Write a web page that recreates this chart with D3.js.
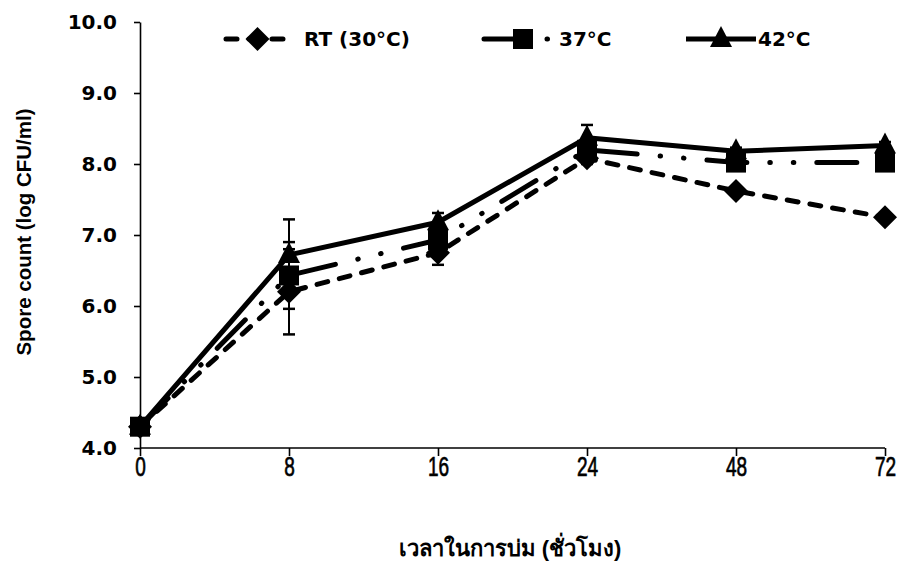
<!DOCTYPE html>
<html lang="en">
<head>
<meta charset="UTF-8">
<title>Spore count vs incubation time</title>
<script src="https://cdnjs.cloudflare.com/ajax/libs/d3/7.8.5/d3.min.js"></script>
<style>
  body { margin: 0; background: #fff; }
  svg { display: block; }
  .axis path, .axis line { stroke: #000; stroke-width: 1.6px; }
  .y-axis text { font-family: "DejaVu Sans", sans-serif; font-size: 20px; font-weight: bold; fill: #000; }
  .x-axis text { font-family: "Liberation Sans", Arial, sans-serif; font-size: 28px; fill: #000; stroke: #000; stroke-width: 0.7px; }
  .legend text { font-family: "DejaVu Sans", sans-serif; font-size: 20px; font-weight: bold; fill: #000; }
  .title { font-family: "Liberation Sans", Arial, sans-serif; font-weight: bold; fill: #000; }
</style>
</head>
<body>
<svg width="902" height="564"></svg>
<script>
// incubation time (hours), shown as evenly spaced categories
const hours = ["0", "8", "16", "24", "48", "72"];
const yTicks = [4, 5, 6, 7, 8, 9, 10];

// spore counts, log CFU/ml
const rtMean  = [4.3, 6.2, 6.75, 8.08, 7.62, 7.25];
const c37Mean = [4.3, 6.43, 6.93, 8.2, 8.02, 8.02];
const c42Mean = [4.3, 6.72, 7.18, 8.37, 8.18, 8.26];

// standard deviations
const rtErr  = [0, 0.6, 0.17, 0.08, 0.05, 0.05];
const c37Err = [0, 0.47, 0.1, 0.08, 0.05, 0.05];
const c42Err = [0, 0.5, 0.13, 0.18, 0.05, 0.05];

const seriesNames = ["RT (30°C)", "37°C", "42°C"];

const svg = d3.select("svg");
const x = d3.scalePoint().domain(hours).range([140, 885]);
const y = d3.scaleLinear().domain([4, 10]).range([448, 22]);

// marker shapes
function marker(kind, cx, cy) {
  if (kind === "diamond") {
    const r = 12;
    return `M${cx},${cy - r}L${cx + r},${cy}L${cx},${cy + r}L${cx - r},${cy}Z`;
  }
  if (kind === "square") {
    const h = 10;
    return `M${cx - h},${cy - h}h${2 * h}v${2 * h}h${-2 * h}Z`;
  }
  // triangle
  return `M${cx},${cy - 13}L${cx + 11},${cy + 8}L${cx - 11},${cy + 8}Z`;
}

const series = [
  { name: seriesNames[2], vals: c42Mean, err: c42Err, dash: null, shape: "triangle", lw: 5 },
  { name: seriesNames[0], vals: rtMean, err: rtErr, dash: "11,12", shape: "diamond", lw: 5 },
  { name: seriesNames[1], vals: c37Mean, err: c37Err, dash: "40,23,0.5,23,0.5,23", shape: "square", lw: 5 }
];

// axes
const yAxis = svg.append("g").attr("class", "axis y-axis")
  .attr("transform", "translate(140,0)")
  .call(d3.axisLeft(y).tickValues(yTicks).tickFormat(d3.format(".1f")).tickSize(6).tickSizeOuter(0));
yAxis.selectAll("text").attr("x", -23);

const xAxis = svg.append("g").attr("class", "axis x-axis")
  .attr("transform", "translate(0,448)")
  .call(d3.axisBottom(x).tickSize(8).tickSizeOuter(0));
xAxis.select(".domain").attr("d", "M140,0H885");
xAxis.selectAll("text").attr("y", 8).attr("transform", "scale(0.68,1)");

// lines
const line = d3.line().x((d, i) => x(hours[i])).y(d => y(d));
series.forEach(s => {
  svg.append("path")
    .datum(s.vals)
    .attr("d", line)
    .attr("fill", "none")
    .attr("stroke", "#000")
    .attr("stroke-width", s.lw)
    .attr("stroke-linecap", s.dash ? "round" : "butt")
    .attr("stroke-linejoin", "round")
    .attr("stroke-dasharray", s.dash);
});

// error bars
series.forEach(s => {
  const g = svg.append("g");
  s.vals.forEach((v, i) => {
    if (!s.err[i]) return;
    const cx = x(hours[i]);
    const y1 = y(v + s.err[i]), y2 = y(v - s.err[i]);
    g.append("line").attr("x1", cx).attr("x2", cx).attr("y1", y1).attr("y2", y2)
      .attr("stroke", "#000").attr("stroke-width", 2);
    [y1, y2].forEach(yy => g.append("line")
      .attr("x1", cx - 6).attr("x2", cx + 6).attr("y1", yy).attr("y2", yy)
      .attr("stroke", "#000").attr("stroke-width", 2.5));
  });
});

// markers
series.forEach(s => {
  svg.append("g").selectAll("path")
    .data(s.vals)
    .join("path")
    .attr("d", (d, i) => marker(s.shape, x(hours[i]), y(d)))
    .attr("fill", "#000");
});

// legend
const legendItems = [
  { s: series[1], x0: 226, x1: 289, tx: 304 },
  { s: series[2], x0: 484, x1: 552, tx: 559 },
  { s: series[0], x0: 686, x1: 756, tx: 758 }
];
const legend = svg.append("g").attr("class", "legend");
const ly = 39;
legendItems.forEach(it => {
  legend.append("line")
    .attr("x1", it.x0).attr("x2", it.x1).attr("y1", ly).attr("y2", ly)
    .attr("stroke", "#000").attr("stroke-width", 5)
    .attr("stroke-linecap", it.s.dash ? "round" : "butt")
    .attr("stroke-dasharray", it.s.dash);
  const cx = it.s.shape === "square" ? 523 : (it.x0 + it.x1) / 2;
  legend.append("path").attr("d", marker(it.s.shape, cx, ly)).attr("fill", "#000");
  legend.append("text").attr("x", it.tx).attr("y", ly).attr("dy", "0.36em").text(it.s.name);
});

// axis titles
svg.append("text").attr("class", "title")
  .attr("transform", "translate(31,232) rotate(-90)")
  .attr("text-anchor", "middle")
  .style("font-size", "20.5px")
  .text("Spore count (log CFU/ml)");

svg.append("text").attr("class", "title")
  .attr("x", 510).attr("y", 556)
  .attr("text-anchor", "middle")
  .style("font-size", "22px")
  .text("เวลาในการบ่ม (ชั่วโมง)");
</script>
</body>
</html>
